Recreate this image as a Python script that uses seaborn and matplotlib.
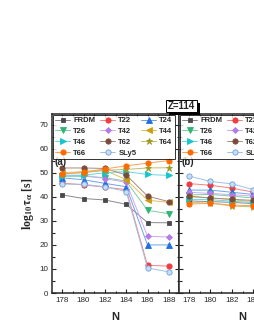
import numpy as np
import pandas as pd
import seaborn as sns
import matplotlib.pyplot as plt
from matplotlib.patches import Rectangle
from matplotlib.ticker import MultipleLocator
from matplotlib.colors import to_rgb

N_a = [178, 180, 182, 184, 186, 188]
N_b = [178, 180, 182, 184]

series = ['FRDM', 'T22', 'T24', 'T26', 'T42', 'T44', 'T46', 'T62', 'T64', 'T66', 'SLy5']

# panel (a)
frdm_a = [40.8, 39.3, 38.7, 36.9, 29.3, 29.2]
t22_a = [45.7, 45.0, 44.0, 43.0, 11.5, 11.2]
t24_a = [47.9, 47.1, 45.6, 44.2, 20.0, 20.0]
t26_a = [48.6, 48.5, 48.0, 46.5, 34.4, 33.0]
t42_a = [49.0, 49.0, 47.6, 46.0, 23.6, 23.3]
t44_a = [50.0, 50.5, 51.0, 47.2, 38.6, 37.7]
t46_a = [48.6, 49.0, 50.0, 50.5, 49.3, 48.9]
t62_a = [52.0, 52.0, 51.8, 49.1, 40.3, 38.0]
t64_a = [49.6, 50.0, 51.0, 51.4, 52.0, 52.1]
t66_a = [49.4, 50.3, 51.6, 52.9, 54.0, 55.1]
sly5_a = [45.3, 45.2, 44.2, 42.2, 10.4, 8.8]

# panel (b), only the part inside the picture
frdm_b = [38.3, 38.0, 37.7, 37.2]
t22_b = [45.5, 44.8, 43.6, 42.0]
t24_b = [42.8, 42.8, 41.9, 41.0]
t26_b = [40.8, 41.0, 40.3, 39.5]
t42_b = [41.9, 41.4, 40.9, 40.3]
t44_b = [40.0, 39.6, 38.8, 38.0]
t46_b = [39.0, 38.8, 38.2, 37.6]
t62_b = [40.3, 39.5, 39.0, 38.5]
t64_b = [37.6, 37.4, 36.2, 35.8]
t66_b = [37.0, 37.3, 36.6, 36.3]
sly5_b = [48.6, 46.4, 45.4, 43.0]

vals_a = [frdm_a, t22_a, t24_a, t26_a, t42_a, t44_a, t46_a, t62_a, t64_a, t66_a, sly5_a]
vals_b = [frdm_b, t22_b, t24_b, t26_b, t42_b, t44_b, t46_b, t62_b, t64_b, t66_b, sly5_b]

colors = ['#4a4a4a', '#f03c3c', '#1f6fe0', '#2fb573', '#b57ae8', '#d09c0a',
          '#14c4d0', '#7b4b3a', '#9c9a1e', '#ff6a00', '#6fa0dc']
markers = ['s', 'o', '^', 'v', 'D', '<', '>', 'o', '*', 'o', 'o']
msizes = [3.3, 3.8, 3.8, 3.8, 3.0, 3.8, 3.8, 3.8, 4.8, 3.8, 3.8]

rows = []
for panel, N, vals in [('a', N_a, vals_a), ('b', N_b, vals_b)]:
    for name, v in zip(series, vals):
        for n, y in zip(N, v):
            rows.append({'panel': panel, 'model': name, 'N': n, 'logT': y})
df = pd.DataFrame(rows)

sns.set_style('ticks')
plt.rcParams['font.family'] = ['Liberation Sans', 'DejaVu Sans']
plt.rcParams['mathtext.fontset'] = 'stix'
plt.rcParams['mathtext.default'] = 'bf'


def lighten(c, f=0.35):
    r, g, b = to_rgb(c)
    return (r + (1 - r) * f, g + (1 - g) * f, b + (1 - b) * f)


fig = plt.figure(figsize=(2.55, 3.3), dpi=100)
ax_a = fig.add_axes([0.204, 0.112, 0.498, 0.543])
ax_b = fig.add_axes([0.702, 0.112, 0.498, 0.543])

for ax, panel in [(ax_a, 'a'), (ax_b, 'b')]:
    sub = df[df['panel'] == panel]
    for name, c, m, ms in zip(series, colors, markers, msizes):
        d = sub[sub['model'] == name]
        face = '#c8dcf4' if name == 'SLy5' else c
        sns.lineplot(data=d, x='N', y='logT', ax=ax, color=lighten(c), lw=0.7,
                     marker=m, markersize=ms, markerfacecolor=face,
                     markeredgecolor=c, markeredgewidth=0.6, label=name)

    ax.set_xlim(177.05, 188.95)
    ax.set_ylim(0, 74.5)
    ax.xaxis.set_major_locator(MultipleLocator(2))
    ax.xaxis.set_minor_locator(MultipleLocator(1))
    ax.yaxis.set_major_locator(MultipleLocator(10))
    ax.yaxis.set_minor_locator(MultipleLocator(5))
    ax.tick_params(which='both', direction='in', top=True, right=True,
                   width=0.8, labelsize=5.8, pad=2.5)
    ax.tick_params(which='major', length=3)
    ax.tick_params(which='minor', length=1.8)
    for s in ax.spines.values():
        s.set_linewidth(1.1)
    ax.set_xlabel('N', fontsize=8, fontweight='bold', labelpad=6)
    ax.text(0.02, 0.73, '(%s)' % panel, transform=ax.transAxes, fontsize=7,
            fontweight='bold', va='center')

    h, l = ax.get_legend_handles_labels()
    order = ['FRDM', 'T26', 'T46', 'T66', 'T22', 'T42', 'T62', 'SLy5', 'T24', 'T44', 'T64']
    hs = [h[l.index(o)] for o in order]
    leg = ax.legend(hs, order, ncol=3, loc='upper left',
                    prop={'weight': 'bold', 'size': 5.5}, frameon=True,
                    fancybox=False, edgecolor='black', handlelength=2.0,
                    handletextpad=0.4, columnspacing=0.6, labelspacing=0.45,
                    borderpad=0.3, borderaxespad=0.1)
    leg.get_frame().set_linewidth(0.7)

ax_a.set_ylabel(r'log$_{10}$$\tau_{\alpha}$ [s]', fontsize=8.5,
                fontweight='bold', family='Liberation Serif', labelpad=3)
ax_b.set_ylabel('')
ax_b.tick_params(labelleft=False)

# title box with a black drop shadow
fig.patches.append(Rectangle((0.661, 0.653), 0.122, 0.036, transform=fig.transFigure,
                             fc='black', ec='black', lw=0, zorder=5))
fig.patches.append(Rectangle((0.651, 0.661), 0.122, 0.036, transform=fig.transFigure,
                             fc='white', ec='black', lw=0.7, zorder=6))
fig.text(0.712, 0.679, 'Z=114', ha='center', va='center', fontsize=7,
         fontweight='bold', zorder=7)

fig.savefig('out.png', dpi=100)
